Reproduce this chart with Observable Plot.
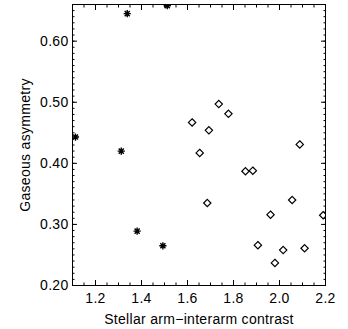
<!DOCTYPE html>
<html>
<head>
<meta charset="utf-8">
<script src="https://cdn.jsdelivr.net/npm/d3@7"></script>
<script src="https://cdn.jsdelivr.net/npm/@observablehq/plot@0.6"></script>
<style>
  html, body { margin: 0; padding: 0; background: white; overflow: hidden; }
  svg text { letter-spacing: 0.3px; }
</style>
</head>
<body>
<div id="chart"></div>
<script>
// Stars (asterisks)
const starX = [1.113, 1.338, 1.512, 1.312, 1.381, 1.493];
const starY = [0.443, 0.645, 0.658, 0.420, 0.289, 0.265];
// Diamonds
const diamondX = [1.620, 1.736, 1.778, 1.693, 1.653, 2.088, 1.852, 1.884, 1.686, 2.055, 1.961, 2.190, 1.906, 2.016, 2.109, 1.980];
const diamondY = [0.467, 0.497, 0.481, 0.454, 0.417, 0.431, 0.387, 0.388, 0.335, 0.340, 0.316, 0.315, 0.266, 0.258, 0.261, 0.237];
// Ticks
const xMajor = [1.2, 1.4, 1.6, 1.8, 2.0, 2.2];
const xMinor = d3.range(23).map(i => +(1.1 + i * 0.05).toFixed(2));
const yMajor = [0.2, 0.3, 0.4, 0.5, 0.6];
const yMinor = d3.range(47).map(i => +(0.2 + i * 0.01).toFixed(2));

const stars = starX.map((x, i) => ({x, y: starY[i]}));
const diamonds = diamondX.map((x, i) => ({x, y: diamondY[i]}));

const star8 = {
  draw(ctx, size) {
    const r = Math.sqrt(size / Math.PI);
    const d = r * Math.SQRT1_2;
    ctx.moveTo(-r, 0); ctx.lineTo(r, 0);
    ctx.moveTo(0, -r); ctx.lineTo(0, r);
    ctx.moveTo(-d, -d); ctx.lineTo(d, d);
    ctx.moveTo(-d, d); ctx.lineTo(d, -d);
  }
};

const blank = () => "";
const chart = Plot.plot({
  width: 348,
  height: 329,
  marginLeft: 72,
  marginRight: 23,
  marginTop: 4,
  marginBottom: 44,
  x: {domain: [1.1, 2.2]},
  y: {domain: [0.2, 0.66]},
  style: {fontFamily: "'Liberation Sans', Arial, sans-serif", fontSize: "14px", background: "white", color: "black"},
  marks: [
    Plot.frame({stroke: "black", strokeWidth: 1}),
    // inward ticks, all four sides
    Plot.axisX(xMajor, {anchor: "bottom", tickSize: -5, tickFormat: blank, label: null}),
    Plot.axisX(xMinor, {anchor: "bottom", tickSize: -2.5, tickFormat: blank, label: null}),
    Plot.axisX(xMajor, {anchor: "top", tickSize: -5, tickFormat: blank, label: null}),
    Plot.axisX(xMinor, {anchor: "top", tickSize: -2.5, tickFormat: blank, label: null}),
    Plot.axisY(yMajor, {anchor: "left", tickSize: -5, tickFormat: blank, label: null}),
    Plot.axisY(yMinor, {anchor: "left", tickSize: -2.5, tickFormat: blank, label: null}),
    Plot.axisY(yMajor, {anchor: "right", tickSize: -5, tickFormat: blank, label: null}),
    Plot.axisY(yMinor, {anchor: "right", tickSize: -2.5, tickFormat: blank, label: null}),
    // labels
    Plot.axisX(xMajor, {anchor: "bottom", tickSize: 0, tickPadding: 8, tickFormat: d => d.toFixed(1),
      label: "Stellar arm\u2212interarm contrast", labelAnchor: "center", labelOffset: 38, labelArrow: "none"}),
    Plot.axisY(yMajor, {anchor: "left", tickSize: 0, tickPadding: 4, tickFormat: d => d.toFixed(2),
      label: "Gaseous asymmetry", labelAnchor: "center", labelOffset: 52, labelArrow: "none"}),
    Plot.dot(diamonds, {x: "x", y: "y", symbol: "diamond2", r: 3.3, stroke: "black", fill: "none", strokeWidth: 1.2, clip: true}),
    Plot.dot(stars, {x: "x", y: "y", symbol: star8, r: 3.6, stroke: "black", fill: "none", strokeWidth: 1.4, clip: true})
  ]
});
document.getElementById("chart").appendChild(chart);
</script>
</body>
</html>
